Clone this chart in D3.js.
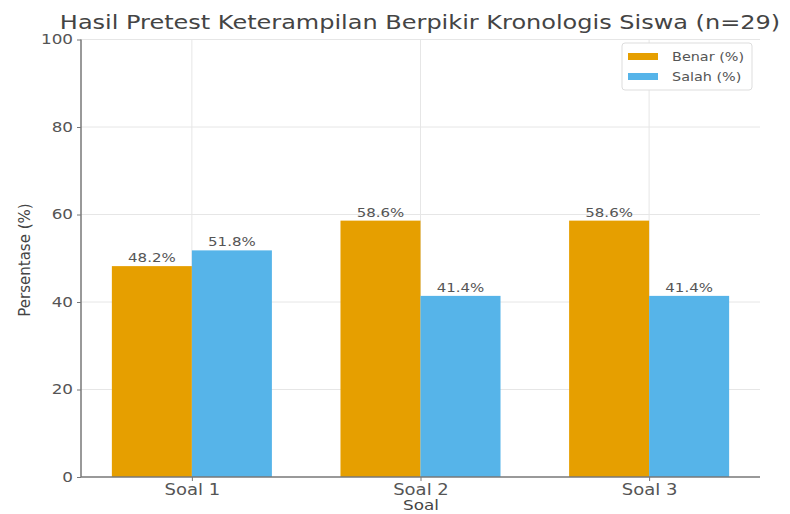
<!DOCTYPE html>
<html>
<head>
<meta charset="utf-8">
<script src="https://cdn.jsdelivr.net/npm/d3@7"></script>
<style>
  body { margin: 0; background: #fff; }
  text { font-family: "DejaVu Sans", sans-serif; }
</style>
</head>
<body>
<script>
const categories = ["Soal 1", "Soal 2", "Soal 3"];
const benar = [48.2, 58.6, 58.6];
const salah = [51.8, 41.4, 41.4];
const yTicks = [0, 20, 40, 60, 80, 100];
const seriesNames = ["Benar (%)", "Salah (%)"];
const colors = ["#E69F00", "#56B4E9"];

const w = 790;
const h = 514;
const mLeft = 81, mRight = 760, mTop = 39.5, mBottom = 477;
const barW = 0.35;
const sx = 1.2; // the picture's text is a bit wider than it is tall

const svg = d3.select("body").append("svg").attr("width", w).attr("height", h);

// widen horizontal texts around their own anchor point
function widen(sel) {
  sel.each(function () {
    const t = d3.select(this);
    const x = +t.attr("x") || 0;
    const y = +t.attr("y") || 0;
    t.attr("x", 0).attr("y", 0).attr("transform", `translate(${x},${y}) scale(${sx},1)`);
  });
}

const xScale = d3.scaleLinear().domain([-0.485, 2.485]).range([mLeft, mRight]);
const yScale = d3.scaleLinear().domain([0, 100]).range([mBottom, mTop]);

// grid
svg.append("g")
  .selectAll("line")
  .data(yTicks.slice(1))
  .enter()
  .append("line")
  .attr("x1", mLeft).attr("x2", mRight)
  .attr("y1", (d) => yScale(d)).attr("y2", (d) => yScale(d))
  .attr("stroke", "#e6e6e6").attr("stroke-width", 1);

svg.append("g")
  .selectAll("line")
  .data(categories)
  .enter()
  .append("line")
  .attr("x1", (d, i) => xScale(i)).attr("x2", (d, i) => xScale(i))
  .attr("y1", mTop).attr("y2", mBottom)
  .attr("stroke", "#e6e6e6").attr("stroke-width", 1);

// bars
const series = [benar, salah];
series.forEach((vals, s) => {
  const off = s === 0 ? -barW / 2 : barW / 2;
  svg.append("g")
    .selectAll("rect")
    .data(vals)
    .enter()
    .append("rect")
    .attr("x", (d, i) => xScale(i + off - barW / 2))
    .attr("width", (d, i) => xScale(i + off + barW / 2) - xScale(i + off - barW / 2))
    .attr("y", (d) => yScale(d))
    .attr("height", (d) => yScale(0) - yScale(d))
    .attr("fill", colors[s]);

  svg.append("g")
    .selectAll("text")
    .data(vals)
    .enter()
    .append("text")
    .text((d) => d.toFixed(1) + "%")
    .attr("x", (d, i) => xScale(i + off))
    .attr("y", (d) => yScale(d) - 4)
    .attr("text-anchor", "middle")
    .attr("font-size", 12.5)
    .attr("fill", "#555")
    .call(widen);
});

// axes
const yAxis = d3.axisLeft(yScale).tickValues(yTicks).tickSize(4).tickPadding(4);
const gy = svg.append("g").attr("transform", `translate(${mLeft},0)`).call(yAxis);
gy.select(".domain").attr("stroke", "#777").attr("stroke-width", 1.5).attr("d", `M0,${mBottom}V${mTop}`);
gy.selectAll(".tick line").attr("stroke", "#777");
gy.selectAll(".tick text").attr("font-size", 14).attr("fill", "#555").attr("font-family", "DejaVu Sans")
  .attr("dy", "0.32em").call(widen);

const xAxis = d3.axisBottom(xScale).tickValues([0, 1, 2]).tickFormat((d) => categories[d]).tickSize(4).tickPadding(3);
const gx = svg.append("g").attr("transform", `translate(0,${mBottom})`).call(xAxis);
gx.select(".domain").attr("stroke", "#777").attr("stroke-width", 1.5).attr("d", `M${mLeft},0H${mRight}`);
gx.selectAll(".tick line").attr("stroke", "#777");
gx.selectAll(".tick text").attr("font-size", 15).attr("fill", "#555").attr("font-family", "DejaVu Sans")
  .call(widen);

// title and labels
svg.append("text")
  .text("Hasil Pretest Keterampilan Berpikir Kronologis Siswa (n=29)")
  .attr("x", 420).attr("y", 29)
  .attr("text-anchor", "middle")
  .attr("font-size", 20)
  .attr("fill", "#444")
  .call(widen);

svg.append("text")
  .text("Soal")
  .attr("x", 421).attr("y", 510)
  .attr("text-anchor", "middle")
  .attr("font-size", 14)
  .attr("fill", "#444")
  .call(widen);

svg.append("text")
  .text("Persentase (%)")
  .attr("transform", "translate(30,260) rotate(-90)")
  .attr("text-anchor", "middle")
  .attr("font-size", 15)
  .attr("fill", "#444");

// legend
const lg = svg.append("g").attr("transform", "translate(622,43)");
lg.append("rect").attr("width", 130).attr("height", 47).attr("rx", 3)
  .attr("fill", "#fff").attr("stroke", "#ddd");
seriesNames.forEach((name, i) => {
  lg.append("rect").attr("x", 6).attr("y", 10 + i * 20).attr("width", 30).attr("height", 7)
    .attr("fill", colors[i]);
  lg.append("text").text(name).attr("x", 50).attr("y", 18 + i * 20)
    .attr("font-size", 12).attr("fill", "#555")
    .call(widen);
});
</script>
</body>
</html>
